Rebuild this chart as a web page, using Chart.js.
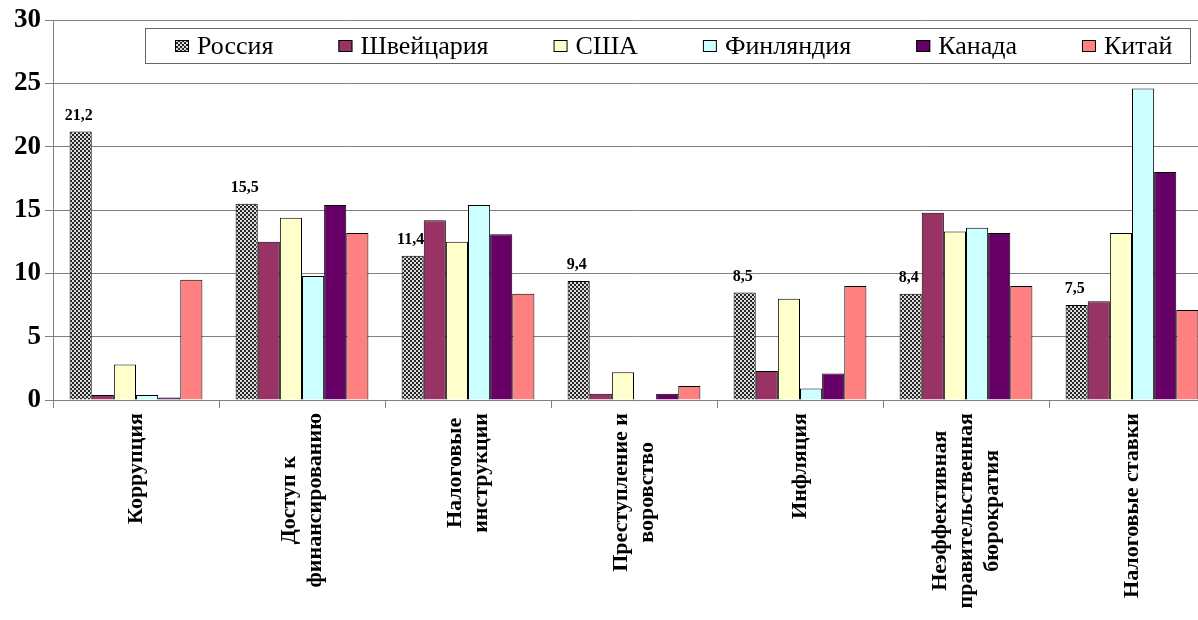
<!DOCTYPE html>
<html>
<head>
<meta charset="utf-8">
<script src="https://cdn.jsdelivr.net/npm/chart.js@4"></script>
<style>
  html, body { margin: 0; padding: 0; background: #fff; overflow: hidden; }
  #wrap { width: 1198px; height: 620px; overflow: hidden; }
</style>
</head>
<body>
<div id="wrap"><canvas id="chart" width="1215" height="620"></canvas></div>
<script>
// categories (split into lines as on the picture)
const categories = [
  ['Коррупция'],
  ['Доступ к', 'финансированию'],
  ['Налоговые', 'инструкции'],
  ['Преступление и', 'воровство'],
  ['Инфляция'],
  ['Неэффективная', 'правительственная', 'бюрократия'],
  ['Налоговые ставки']
];
const countries = ['Россия', 'Швейцария', 'США', 'Финляндия', 'Канада', 'Китай'];

const russia      = [21.2, 15.5, 11.4, 9.4, 8.5, 8.4, 7.5];
const switzerland = [0.4, 12.5, 14.2, 0.5, 2.3, 14.8, 7.8];
const usa         = [2.8, 14.4, 12.5, 2.2, 8.0, 13.3, 13.2];
const finland     = [0.4, 9.8, 15.4, null, 0.9, 13.6, 24.6];
const canada      = [0.2, 15.4, 13.1, 0.5, 2.1, 13.2, 18.0];
const china       = [9.5, 13.2, 8.4, 1.1, 9.0, 9.0, 7.1];

const yTicks = [0, 5, 10, 15, 20, 25, 30];

const serif = "'Liberation Serif', 'Times New Roman', serif";

// checkered fill for Russia
function makeCheckPattern(ctx) {
  const c = document.createElement('canvas');
  c.width = 4; c.height = 4;
  const g = c.getContext('2d');
  g.fillStyle = '#262626';
  g.fillRect(0, 0, 4, 4);
  g.fillStyle = '#dcdcdc';
  g.fillRect(0, 0, 2, 2);
  g.fillRect(2, 2, 2, 2);
  return ctx.createPattern(c, 'repeat');
}

const canvas = document.getElementById('chart');
const ctx = canvas.getContext('2d');
const checker = makeCheckPattern(ctx);

const colors = [checker, '#993366', '#FFFFCC', '#CCFFFF', '#660066', '#FF8080'];
const series = [russia, switzerland, usa, finland, canada, china];

// values above the Russia bars
const russiaLabels = {
  id: 'russiaLabels',
  afterDatasetsDraw(chart) {
    const meta = chart.getDatasetMeta(0);
    const c = chart.ctx;
    c.save();
    c.font = 'bold 16px ' + serif;
    c.fillStyle = '#000';
    c.textAlign = 'center';
    c.textBaseline = 'bottom';
    meta.data.forEach((bar, i) => {
      const txt = russia[i].toFixed(1).replace('.', ',');
      c.fillText(txt, bar.x - 2, bar.y - 8);
    });
    c.restore();
  }
};

// rotated multi-line category labels, lines centred on each other
const rotatedLabels = {
  id: 'rotatedLabels',
  afterDraw(chart) {
    const xs = chart.scales.x;
    const c = chart.ctx;
    const lh = 26;
    c.save();
    c.font = 'bold 22px ' + serif;
    c.fillStyle = '#000';
    c.textAlign = 'center';
    c.textBaseline = 'middle';
    categories.forEach((lines, i) => {
      const x = xs.getPixelForValue(i);
      const maxW = Math.max(...lines.map(l => c.measureText(l).width));
      c.save();
      c.translate(x, xs.top + 13);
      c.rotate(-Math.PI / 2);
      lines.forEach((line, j) => {
        c.fillText(line, -maxW / 2, (j - (lines.length - 1) / 2) * lh);
      });
      c.restore();
    });
    c.restore();
  }
};

// framed legend inside the plot
const framedLegend = {
  id: 'framedLegend',
  afterDraw(chart) {
    const c = chart.ctx;
    const box = { left: 145.5, top: 28.5, right: 1190.5, bottom: 63.5 };
    c.save();
    c.fillStyle = '#fff';
    c.fillRect(box.left, box.top, box.right - box.left, box.bottom - box.top);
    c.strokeStyle = '#666';
    c.lineWidth = 1;
    c.strokeRect(box.left, box.top, box.right - box.left, box.bottom - box.top);
    c.font = '26px ' + serif;
    c.textBaseline = 'middle';
    c.textAlign = 'left';
    const midY = (box.top + box.bottom) / 2;
    let x = 175;
    countries.forEach((name, i) => {
      c.fillStyle = colors[i];
      c.fillRect(x, midY - 6, 14, 12);
      c.strokeStyle = '#000';
      c.strokeRect(x + 0.5, midY - 5.5, 13, 11);
      c.fillStyle = '#000';
      c.fillText(name, x + 22, midY + 1);
      x += 22 + c.measureText(name).width + 65;
    });
    c.restore();
  }
};

new Chart(ctx, {
  type: 'bar',
  data: {
    labels: categories.map(l => l.join(' ')),
    datasets: series.map((data, i) => ({
      label: countries[i],
      data: data,
      backgroundColor: colors[i],
      borderColor: '#000',
      borderWidth: 1,
      categoryPercentage: 0.8,
      barPercentage: 1.0
    }))
  },
  options: {
    responsive: false,
    animation: false,
    layout: { padding: { top: 16, left: 0, right: 0, bottom: 0 } },
    plugins: {
      legend: { display: false },
      tooltip: { enabled: false }
    },
    scales: {
      x: {
        grid: { offset: true, drawOnChartArea: false, color: '#808080', tickLength: 8 },
        border: { color: '#808080' },
        ticks: { display: false },
        afterFit(scale) { scale.height = 220; }
      },
      y: {
        min: yTicks[0],
        max: yTicks[yTicks.length - 1],
        ticks: {
          stepSize: yTicks[1] - yTicks[0],
          font: { family: serif, weight: 'bold', size: 27 },
          color: '#000',
          padding: 4
        },
        grid: { color: '#808080', tickLength: 8 },
        border: { color: '#808080' },
        afterFit(scale) { scale.width = 53; }
      }
    }
  },
  plugins: [russiaLabels, rotatedLabels, framedLegend]
});
</script>
</body>
</html>
